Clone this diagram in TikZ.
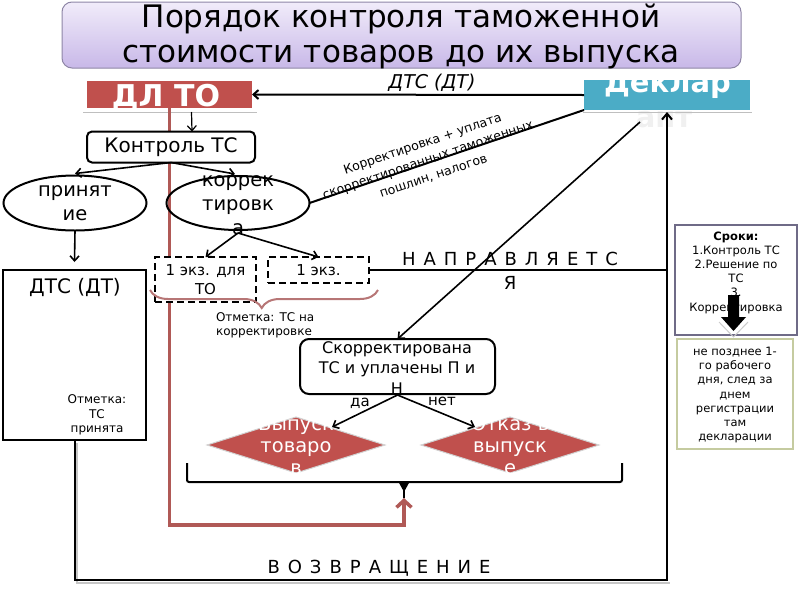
\documentclass[tikz,border=0pt]{standalone}
\usepackage{fontspec}
\setmainfont{DejaVu Sans}
\usetikzlibrary{shapes.geometric,arrows.meta,decorations.pathreplacing}
\definecolor{dlred}{HTML}{C0504D}
\definecolor{declblue}{HTML}{4BACC6}
\definecolor{redline}{HTML}{B05956}
\definecolor{bracecol}{HTML}{B77676}
\definecolor{titletop}{HTML}{F1ECFA}
\definecolor{titlebot}{HTML}{C8B8E8}
\definecolor{titleedge}{HTML}{8E86A6}
\definecolor{srokedge}{HTML}{6F6B87}
\definecolor{oliveedge}{HTML}{C5CBA0}
\newcommand{\fsz}[2]{\fontsize{#1}{#2}\selectfont}
\newcommand{\gapA}{\hspace{8pt}}
\begin{document}
\begin{tikzpicture}[x=1pt,y=-1pt,
  every node/.style={inner sep=0pt,outer sep=0pt},
  arr/.style={-{Straight Barb[length=5pt,width=9pt]},line width=1.6pt},
  ln/.style={line width=2pt},
  dashbox/.style={draw,line width=2pt,dash pattern=on 7pt off 4pt,fill=white,align=center},
  dia/.style={diamond,fill=dlred,draw=gray!35,line width=1pt,minimum width=178pt,minimum height=56pt},
  dtext/.style={text=white,font=\fsz{19.5}{22},align=center},
  ell/.style={draw,line width=2pt,ellipse,minimum width=143pt,minimum height=55pt},
  etext/.style={font=\fsz{19.5}{24},align=center},
  small/.style={font=\fsz{12}{14.3},align=center}
]
\useasboundingbox (0,0) rectangle (800,600);

% title
\node[draw=titleedge,line width=1pt,rounded corners=10pt,top color=titletop,bottom color=titlebot,
  minimum width=679pt,minimum height=66pt] (title) at (401.5,35) {};
\node[font=\fsz{31}{35},align=center] (ttext) at (401,36) {Порядок контроля таможенной\\стоимости товаров до их выпуска};

% top boxes
\node[fill=dlred,minimum width=165pt,minimum height=27pt] (dlto) at (169.5,94.5) {};
\node[text=white,font=\bfseries\fsz{30}{30},anchor=base] (dltotext) at (166,106) {ДЛ ТО};
\draw[gray!50,line width=0.8pt] (83,112) -- (257,112);
\node[fill=declblue,minimum width=166pt,minimum height=30pt] (decl) at (667,95) {};
\node[text=white,font=\bfseries\fsz{29}{29},anchor=base] (decltext) at (667.5,92) {Деклар};
\node[text=gray!12,font=\bfseries\fsz{29}{29},anchor=base] (decltext2) at (664,127) {ант};
\draw[gray!50,line width=0.8pt] (583,112) -- (752,112);

\draw[arr,line width=2pt] (decl.west) -- (dlto.east);
\node[font=\itshape\fsz{19}{19}] (dtslabel) at (432,83) {ДТС (ДТ)};

% red return line
\coordinate (brtip) at (404,498);
\draw[redline,line width=3.5pt,-{Straight Barb[length=7pt,width=15pt]}] (dlto.south) -- ++(0,417) -| (brtip);

% control
\node[draw,line width=2pt,rounded corners=5pt,fill=white,minimum width=168pt,minimum height=31pt,font=\fsz{20}{20}] (ctrl) at (171,147) {Контроль ТС};
\draw[arr,line width=1.2pt] ([xshift=22pt,yshift=-4pt]dlto.south) -- ([xshift=21pt]ctrl.north);

% ellipses
\node[ell] (prin) at (75,203) {};
\node[etext] (printext) at (75,203) {принят\\ие};
\node[ell,minimum height=54pt] (korr) at (238,203) {};
\node[etext] (korrtext) at (238,205) {коррек\\тировк\\а};
\draw[arr] (ctrl.south) -- ([yshift=2pt]prin.north);
\draw[arr] (ctrl.south) -- ([xshift=-3pt,yshift=2pt]korr.north);

% DTS box
\node[draw,line width=2pt,minimum width=143pt,minimum height=170pt] (dts) at (74.5,355) {};
\node[font=\fsz{20}{20}] (dtstitle) at (75,287) {ДТС (ДТ)};
\node[small] (dtsmark) at (97,415) {Отметка:\\ТС\\принята};
\draw[arr] (prin.south) -- ([yshift=8pt]dts.north);

% copies
\node[dashbox,minimum width=101pt,minimum height=45pt,font=\fsz{15}{19}] (ex1) at (205.5,279.5) {1 экз. для\\ТО};
\node[dashbox,minimum width=101pt,minimum height=26pt,font=\fsz{15}{19}] (ex2) at (318.5,270) {1 экз.};
\draw[arr] ([yshift=-3pt]korr.south) -- (ex1.north);
\draw[arr] ([yshift=-3pt]korr.south) -- (ex2.north);
\draw[bracecol,line width=2pt,decorate,decoration={brace,amplitude=18pt,aspect=0.51}] (378,290) -- (150,290);
\node[font=\fsz{12}{14},align=left,anchor=west] (mark2) at (216,325) {Отметка: ТС на\\корректировке};

% direction line
\coordinate (nright) at (667,270);
\draw[ln] (ex2.east) -- (nright);
\node[font=\fsz{18}{24},align=center] (napr) at (510,271) {Н\gapA А\gapA П\gapA Р\gapA А\gapA В\gapA Л\gapA Я\gapA Е\gapA Т\gapA С\\Я};

% correction line from declarant
\draw[ln] (decl.south west) -- (korr.east);
\node[font=\fsz{12.5}{17},align=center,rotate=18.7] (corrlabel) at (428,160) {Корректировка + уплата\\скорректированных таможенных\\пошлин, налогов};

% decision box
\node[draw,line width=2pt,rounded corners=9pt,fill=white,minimum width=195pt,minimum height=55pt] (skor) at (397.5,366.5) {};
\node[font=\fsz{16}{20.5},align=center] (skortext) at (397,368) {Скорректирована\\ТС и уплачены П и\\Н};
\coordinate (dant) at (640,122);
\draw[arr] (dant) -- (skor.north);

% outcomes
\node[dia] (vyp) at (296,445) {};
\node[dtext] (vyptext) at (296,445) {Выпуск\\товаро\\в};
\node[dia] (otk) at (510,445) {};
\node[dtext] (otktext) at (510,445) {Отказ в\\выпуск\\е};
\draw[arr] ([yshift=-1pt]skor.south) -- ([shift={(36pt,18pt)}]vyp.center);
\draw[arr] ([yshift=-1pt]skor.south) -- ([shift={(-35pt,18pt)}]otk.center);
\node[font=\fsz{15}{15}] (da) at (360,403) {да};
\node[font=\fsz{15}{15}] (net) at (442,401) {нет};

% bracket
\draw[line width=2pt,rounded corners=2pt] (187,463) -- (187,482) -- (622,482) -- (622,463);
\fill (398,481) -- (410,481) -- (404,492) -- cycle;
\draw[line width=1.5pt] (404,482) -- (brtip);

% return loop
\draw[gray!45,line width=2pt] (77,443) -- (77,583) -- (670,583);
\draw[ln,-{Straight Barb[length=6pt,width=10pt]}] (dts.south) -- ++(0,140) -| ([yshift=-2pt]decl.south);
\node[font=\fsz{18}{18}] (vozv) at (379,568) {В\gapA О\gapA З\gapA В\gapA Р\gapA А\gapA Щ\gapA Е\gapA Н\gapA И\gapA Е};

% right boxes
\node[draw=srokedge,line width=2pt,fill=white,minimum width=122pt,minimum height=110pt] (srok) at (736,280) {};
\node[font=\fsz{11.5}{14.2},align=center] (sroktext) at (736,272.5) {\textbf{Сроки:}\\1.Контроль ТС\\2.Решение по\\ТС\\3.\\Корректировка};
\draw[gray!40,line width=1pt] (719,322) -- (733.5,337) -- (748,322);
\fill (728,295) -- (739,295) -- (739,317) -- (746,317) -- (733.5,331) -- (721,317) -- (728,317) -- cycle;
\node[draw=oliveedge,line width=2pt,fill=white,minimum width=116pt,minimum height=110pt] (term) at (735,394) {};
\node[font=\fsz{11.5}{14.3},align=center] (termtext) at (735,395) {не позднее 1-\\го рабочего\\дня, след за\\днем\\регистрации\\там\\декларации};
\end{tikzpicture}
\end{document}
